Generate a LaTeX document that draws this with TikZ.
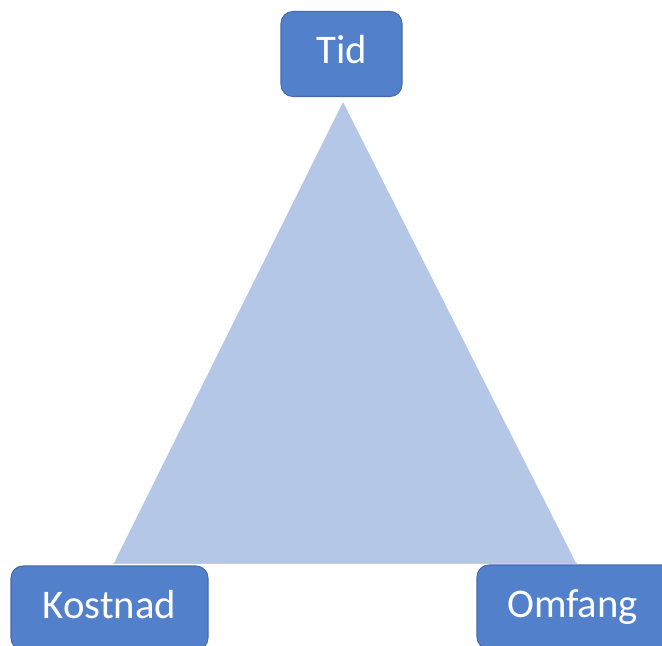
\documentclass[tikz,border=0pt]{standalone}
\usepackage{fontspec}
\setmainfont{Carlito}
\usetikzlibrary{positioning}
\definecolor{boxblue}{HTML}{5380CB}
\definecolor{boxline}{HTML}{4469AE}
\definecolor{trifill}{HTML}{B4C7E7}
\definecolor{edgegray}{HTML}{C8CCD2}

\tikzset{
  corner/.style={draw=boxline,line width=0.8pt,fill=boxblue,rounded corners=9pt,
    text=white,font=\fontsize{30.5}{36}\selectfont,inner sep=0pt,
    text height=20pt,text depth=5pt}
}

\begin{document}
\begin{tikzpicture}[x=0.75pt,y=-0.75pt]
    \useasboundingbox (0,0) rectangle (662,646);
    % triangle
    \coordinate (top) at (343,100);
    \coordinate (left) at (113,563);
    \coordinate (right) at (577,563);
    \fill[trifill] (top) -- (right) -- (left) -- cycle;
    \draw[white,line width=1.2pt] (left) -- (top) -- (right);
    \draw[edgegray,line width=0.6pt] (left) -- (right);
    % the three boxes
    \node[corner,minimum width=121*0.75pt,minimum height=85*0.75pt] (tid) at (341.5,54) {Tid};
    \node[corner,minimum width=197*0.75pt,minimum height=84*0.75pt] (kostnad) at (109.5,608) {Kostnad};
    \node[corner,minimum width=197*0.75pt,minimum height=84*0.75pt,text width=197*0.75pt-6pt,align=center] (omfang) at (575.5,607) {Omfang\hspace*{4.5pt}};
  \end{tikzpicture}
\end{document}
